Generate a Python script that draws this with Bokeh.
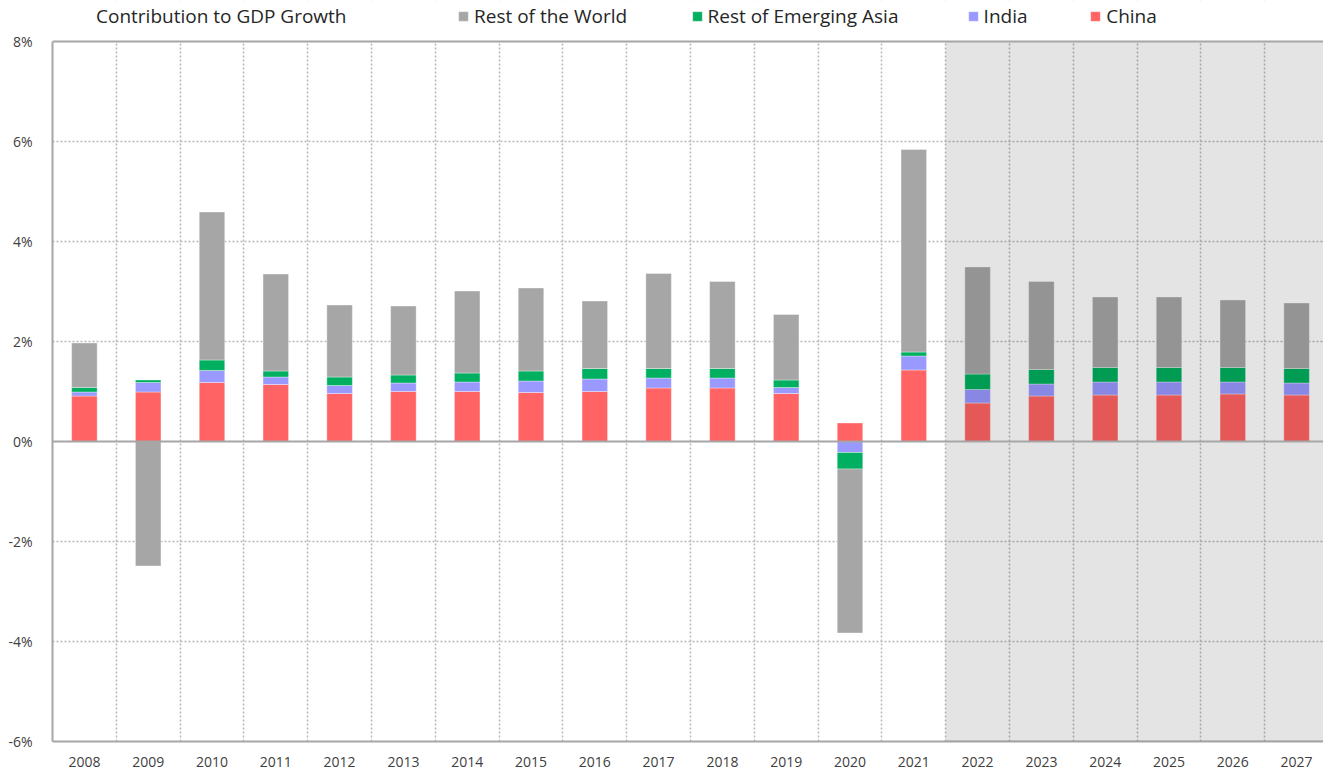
import numpy as np
from bokeh.plotting import figure
from bokeh.models import (ColumnDataSource, FixedTicker, PrintfTickFormatter, Legend, LegendItem,
                          BoxAnnotation, Span)
from bokeh.embed import file_html
from bokeh.resources import INLINE

years = list(range(2008, 2028))
china = [0.91, 0.99, 1.18, 1.14, 0.96, 1.00, 1.00, 0.98, 1.00, 1.07, 1.07, 0.96, 0.37, 1.43,
         0.77, 0.91, 0.93, 0.93, 0.95, 0.93]
india = [0.08, 0.19, 0.24, 0.15, 0.16, 0.17, 0.19, 0.23, 0.25, 0.20, 0.20, 0.12, -0.22, 0.28,
         0.27, 0.24, 0.26, 0.26, 0.24, 0.24]
rest_asia = [0.09, 0.05, 0.21, 0.12, 0.17, 0.16, 0.18, 0.20, 0.21, 0.19, 0.19, 0.15, -0.33, 0.08,
             0.31, 0.29, 0.29, 0.29, 0.29, 0.29]
rest_world = [0.89, -2.49, 2.96, 1.94, 1.44, 1.38, 1.64, 1.66, 1.35, 1.90, 1.74, 1.31, -3.28, 4.05,
              2.14, 1.76, 1.41, 1.41, 1.35, 1.31]
series_names = ["China", "India", "Rest of Emerging Asia", "Rest of the World"]
series_colors = ["#FF6363", "#9999FF", "#00AF5F", "#A6A6A6"]
y_ticks = [-6, -4, -2, 0, 2, 4, 6, 8]
forecast_start = 2022

FONT = "Open Sans"
W, H = 1323, 770
BOTTOM, LEFT = 29, 52
FRAME_H = H - BOTTOM
PX_PER_UNIT = 50.0
CAT_PX = 63.8                                   # width of one year slot in pixels
y_top = y_ticks[-1] + 41 / PX_PER_UNIT          # room for title/legend strip inside the frame
x_end = years[0] - 0.5 + (W - LEFT) / CAT_PX    # last slot is slightly cut at the right edge

p = figure(width=W, height=H, output_backend="svg", toolbar_location=None,
           x_range=(years[0] - 0.5, x_end), y_range=(y_ticks[0], y_top),
           min_border_left=LEFT, min_border_right=0, min_border_top=0, min_border_bottom=BOTTOM)
p.outline_line_alpha = 0
p.background_fill_color = "white"

# stacking: positives upward, negatives downward
data = [np.array(china), np.array(india), np.array(rest_asia), np.array(rest_world)]
pos = np.zeros(len(years))
neg = np.zeros(len(years))
renderers = []
for vals, name, col in zip(data, series_names, series_colors):
    bottom = np.where(vals >= 0, pos, neg)
    top = bottom + vals
    pos = np.where(vals >= 0, top, pos)
    neg = np.where(vals < 0, top, neg)
    src = ColumnDataSource(dict(x=years, bottom=bottom, top=top))
    r = p.vbar(x="x", bottom="bottom", top="top", width=0.4, source=src,
               fill_color=col, line_color="white", line_alpha=0.35, line_width=1)
    renderers.append(r)

# axes
p.yaxis.ticker = FixedTicker(ticks=y_ticks)
p.yaxis.formatter = PrintfTickFormatter(format="%d%%")
p.yaxis.bounds = (y_ticks[0], y_ticks[-1])
p.xaxis.ticker = FixedTicker(ticks=years)
for ax in (p.xaxis, p.yaxis):
    ax.major_tick_line_alpha = 0
    ax.minor_tick_line_alpha = 0
    ax.axis_line_color = "#A6A6A6"
    ax.axis_line_width = 2
    ax.major_label_text_font = FONT
    ax.major_label_text_font_size = "14px"
    ax.major_label_text_color = "#404040"
p.yaxis.major_label_standoff = 14
p.xaxis.major_label_standoff = 9

# grids
p.xgrid.ticker = FixedTicker(ticks=[y + 0.5 for y in years])
p.ygrid.ticker = FixedTicker(ticks=[t for t in y_ticks if t not in (0, y_ticks[-1])])
for g in (p.xgrid, p.ygrid):
    g.grid_line_color = "#B8B8B8"
    g.grid_line_dash = "2 2"
    g.grid_line_width = 1.5

# forecast shading
p.add_layout(BoxAnnotation(left=forecast_start - 0.5, top=y_ticks[-1], bottom=y_ticks[0],
                           fill_color="black", fill_alpha=0.105, line_alpha=0))
# white strip above the plot area (title / legend zone)
p.add_layout(BoxAnnotation(bottom=y_ticks[-1], fill_color="white", fill_alpha=1, line_alpha=0))

p.add_layout(Span(location=0, dimension="width", line_color="#A6A6A6", line_width=2))
p.add_layout(Span(location=y_ticks[-1], dimension="width", line_color="#A6A6A6", line_width=2))

# title + legend entries positioned in the top strip
LEG_H = 26
leg_y = FRAME_H - 16 - LEG_H / 2
dummy = p.vbar(x=[], top=[], width=0.1, fill_alpha=0, line_alpha=0)

def add_legend(label, rend, x, glyph=12, standoff=5):
    lg = Legend(items=[LegendItem(label=label, renderers=[rend])], location=(x, leg_y),
                orientation="horizontal", padding=0, margin=0, spacing=0,
                glyph_width=glyph, glyph_height=12, label_standoff=standoff,
                label_height=LEG_H, label_text_font=FONT, label_text_font_size="19px",
                label_text_color="#262626", border_line_alpha=0, background_fill_alpha=0)
    p.add_layout(lg, "center")

add_legend("Contribution to GDP Growth", dummy, 96 - LEFT, glyph=0, standoff=0)
add_legend(series_names[3], renderers[3], 457 - LEFT)
add_legend(series_names[2], renderers[2], 690.5 - LEFT)
add_legend(series_names[1], renderers[1], 966.6 - LEFT)
add_legend(series_names[0], renderers[0], 1089.2 - LEFT)

open("out.html", "w").write(file_html(p, INLINE))
